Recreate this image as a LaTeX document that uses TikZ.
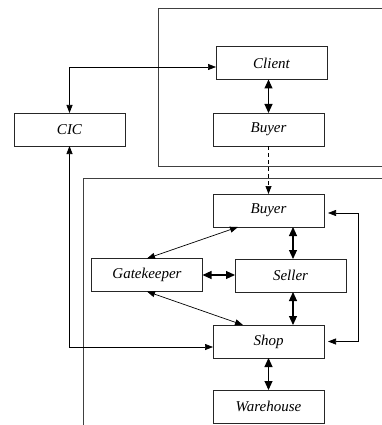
\documentclass[tikz,border=0pt]{standalone}
\usepackage{fontspec}
\setmainfont{Liberation Serif}
\usetikzlibrary{arrows.meta}
\begin{document}
\begin{tikzpicture}[x=1pt,y=-1pt,
  box/.style={draw=black!85, line width=0.8pt, rectangle, inner sep=0pt, outer sep=0pt,
    minimum width=111pt, minimum height=33pt, font=\fontsize{15}{17}\selectfont\itshape},
  frame/.style={draw=black!75, line width=0.9pt},
  bold/.style={line width=1.1pt, {Triangle[width=8pt,length=9pt]}-{Triangle[width=8pt,length=9pt]}},
  thinarr/.style={line width=0.7pt, {Triangle[width=6pt,length=8pt]}-{Triangle[width=6pt,length=8pt]}},
  onearr/.style={line width=0.7pt, -{Triangle[width=6pt,length=8pt]}}]
\useasboundingbox (0,0) rectangle (382,425);

% enclosing frames
\draw[frame] (382,8) -- (158,8) -- (158,166) -- (382,166);
\draw[frame] (382,178) -- (83,178) -- (83,425);

% components
\node[box] (client) at (271.5,63) {Client};
\node[box] (buyerA) at (268.5,129.5) {Buyer};
\node[box] (cic) at (69.5,129.5) {CIC};
\node[box] (buyerB) at (268.5,210.5) {Buyer};
\node[box] (gate) at (147,275) {Gatekeeper};
\node[box] (seller) at (290.5,275.5) {Seller};
\node[box] (shop) at (268.5,341.5) {Shop};
\node[box] (ware) at (268.5,406.5) {Warehouse};

% links to the CIC
\draw[thinarr] (cic.north) |- ([yshift=-4pt]client.west);
\draw[thinarr] (cic.south) |- ([yshift=-5.5pt]shop.west);

% client side
\draw[bold] (client.south -| buyerA.north) -- (buyerA.north);
\draw[onearr, dashed, dash pattern=on 4pt off 3pt] (buyerA.south) -- (buyerB.north);

% shop side
\draw[bold] ([xshift=2.5pt]buyerB.south -| seller.north) -- ([xshift=2.5pt]seller.north);
\draw[bold] ([xshift=2.5pt]seller.south) -- ([xshift=2.5pt]seller.south |- shop.north);
\draw[bold] (gate.east) -- (gate.east -| seller.west);
\draw[thinarr] (gate.north) -- ([xshift=-30.5pt]buyerB.south);
\draw[thinarr] (gate.south) -- ([xshift=-25.5pt]shop.north);
\draw[bold] (shop.south) -- (ware.north);

% return loop between buyer and shop
\coordinate (loopA) at ([xshift=4pt,yshift=-2.5pt]buyerB.east);
\coordinate (loopB) at ([xshift=4pt]shop.east);
\draw[thinarr] (loopA) -- ++(30,0) |- (loopB);
\end{tikzpicture}
\end{document}
